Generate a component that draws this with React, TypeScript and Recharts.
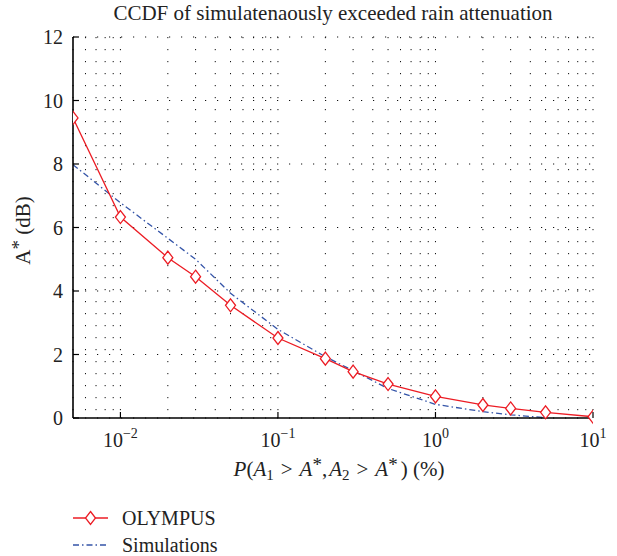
import { LineChart, Line, XAxis, YAxis, CartesianGrid } from "recharts";

const probs = [0.005, 0.01, 0.02, 0.03, 0.05, 0.1, 0.2, 0.3, 0.5, 1, 2, 3, 5, 10];
const olympus = [9.45, 6.33, 5.05, 4.45, 3.55, 2.52, 1.87, 1.46, 1.07, 0.68, 0.41, 0.3, 0.18, 0.04];
const simulations = [7.98, 6.78, 5.66, 5.0, 3.93, 2.79, 1.93, 1.49, 0.93, 0.43, 0.2, 0.1, 0.01, null];

const gridTicks = [
  0.005, 0.006, 0.007, 0.008, 0.009,
  0.01, 0.02, 0.03, 0.04, 0.05, 0.06, 0.07, 0.08, 0.09,
  0.1, 0.2, 0.3, 0.4, 0.5, 0.6, 0.7, 0.8, 0.9,
  1, 2, 3, 4, 5, 6, 7, 8, 9, 10,
];
const decadeTicks = [0.01, 0.1, 1, 10];
const yTicks = [0, 2, 4, 6, 8, 10, 12];

const data = probs.map((p, i) => ({ p, olympus: olympus[i], sim: simulations[i] }));

const FONT = "'Liberation Serif', 'DejaVu Serif', serif";
const RED = "#ec1c24";
const BLUE = "#3454a8";
const SIM_DASH = "6 3 1.5 3";

const isDecade = (v: number) => Math.abs(Math.log10(v) - Math.round(Math.log10(v))) < 1e-6;

const BottomTick = (props: any) => {
  const { x, y, payload } = props;
  if (!isDecade(payload.value)) return <g />;
  const e = Math.round(Math.log10(payload.value));
  return (
    <g>
      <line x1={x} x2={x} y1={y} y2={y - 6} stroke="#000" strokeWidth={1.2} />
      <text x={x} y={y + 29} textAnchor="middle" fontFamily={FONT} fontSize={20} fill="#222">
        10
        <tspan dy={-9} fontSize={14}>{e < 0 ? "\u2212" + -e : String(e)}</tspan>
      </text>
    </g>
  );
};

const TopTick = (props: any) => {
  const { x, y } = props;
  return <line x1={x} x2={x} y1={y} y2={y + 6} stroke="#000" strokeWidth={1.2} />;
};

const LeftTick = (props: any) => {
  const { x, y, payload } = props;
  return (
    <g>
      <line x1={x} x2={x + 6} y1={y} y2={y} stroke="#000" strokeWidth={1.2} />
      <text x={x - 10} y={y} dy="0.35em" textAnchor="end" fontFamily={FONT} fontSize={20} fill="#222">
        {payload.value}
      </text>
    </g>
  );
};

const RightTick = (props: any) => {
  const { x, y } = props;
  return <line x1={x} x2={x - 6} y1={y} y2={y} stroke="#000" strokeWidth={1.2} />;
};

const Diamond = (props: any) => {
  const { cx, cy } = props;
  if (cx == null || cy == null) return <g />;
  return (
    <polygon
      points={`${cx},${cy - 6.5} ${cx + 5},${cy} ${cx},${cy + 6.5} ${cx - 5},${cy}`}
      fill="#fff"
      stroke={RED}
      strokeWidth={1.3}
    />
  );
};

const XLabel = (props: any) => {
  const { viewBox } = props;
  const cx = viewBox.x + viewBox.width / 2 + 6;
  const y = viewBox.y + 58;
  return (
    <text x={cx} y={y} textAnchor="middle" fontFamily={FONT} fontSize={21} fill="#222">
      <tspan fontStyle="italic">P</tspan>(<tspan fontStyle="italic">A</tspan>
      <tspan dy={4} fontSize={15}>1</tspan>
      <tspan dy={-4} dx={7}>&gt;</tspan>
      <tspan fontStyle="italic" dx={7}>A</tspan>
      <tspan dy={-5} fontSize={19}>*</tspan>
      <tspan dy={5}>,</tspan>
      <tspan fontStyle="italic" dx={2}>A</tspan>
      <tspan dy={4} fontSize={15}>2</tspan>
      <tspan dy={-4} dx={7}>&gt;</tspan>
      <tspan fontStyle="italic" dx={7}>A</tspan>
      <tspan dy={-5} fontSize={19}>*</tspan>
      <tspan dy={5} dx={3}>) (%)</tspan>
    </text>
  );
};

const YLabel = (props: any) => {
  const { viewBox } = props;
  const cy = viewBox.y + viewBox.height / 2 + 3;
  const x = 30;
  return (
    <text x={x} y={cy} transform={`rotate(-90 ${x} ${cy})`} textAnchor="middle" fontFamily={FONT} fontSize={21} fill="#222">
      A
      <tspan dy={-5} fontSize={19}>*</tspan>
      <tspan dy={5}> (dB)</tspan>
    </text>
  );
};

export default function App() {
  return (
    <div style={{ position: "absolute", left: 0, top: 0, width: 617, height: 556, background: "#fff" }}>
      <LineChart width={617} height={556} data={data} margin={{ top: 37, right: 24, bottom: 108, left: 13 }}>
        <CartesianGrid
          xAxisId="b"
          yAxisId="l"
          stroke="#111"
          strokeWidth={1}
          strokeDasharray="1.2 10.8"
        />
        <XAxis
          xAxisId="b"
          dataKey="p"
          type="number"
          scale="log"
          domain={[0.005, 10]}
          allowDataOverflow
          ticks={gridTicks}
          interval={0}
          height={30}
          tickSize={0}
          tickMargin={0}
          tick={<BottomTick />}
          axisLine={{ stroke: "#000", strokeWidth: 1.6 }}
          label={<XLabel />}
        />
        <XAxis
          xAxisId="t"
          orientation="top"
          dataKey="p"
          type="number"
          scale="log"
          domain={[0.005, 10]}
          allowDataOverflow
          ticks={decadeTicks}
          interval={0}
          height={0}
          tickSize={0}
          tickMargin={0}
          tick={<TopTick />}
          axisLine={{ stroke: "#000", strokeWidth: 1.6 }}
        />
        <YAxis
          yAxisId="l"
          type="number"
          domain={[0, 12]}
          ticks={yTicks}
          interval={0}
          width={60}
          tickSize={0}
          tickMargin={0}
          tick={<LeftTick />}
          axisLine={{ stroke: "#000", strokeWidth: 1.6 }}
          label={<YLabel />}
        />
        <YAxis
          yAxisId="r"
          orientation="right"
          type="number"
          domain={[0, 12]}
          ticks={yTicks}
          interval={0}
          width={0}
          tickSize={0}
          tickMargin={0}
          tick={<RightTick />}
          axisLine={{ stroke: "#000", strokeWidth: 1.6 }}
        />
        <Line
          xAxisId="b"
          yAxisId="l"
          type="linear"
          dataKey="sim"
          name="Simulations"
          stroke={BLUE}
          strokeWidth={1.3}
          strokeDasharray={SIM_DASH}
          dot={false}
          activeDot={false}
          isAnimationActive={false}
        />
        <Line
          xAxisId="b"
          yAxisId="l"
          type="linear"
          dataKey="olympus"
          name="OLYMPUS"
          stroke={RED}
          strokeWidth={1.3}
          dot={<Diamond />}
          activeDot={false}
          isAnimationActive={false}
        />
      </LineChart>
      <svg width={617} height={556} style={{ position: "absolute", left: 0, top: 0, pointerEvents: "none" }}>
        <text x={333} y={20} textAnchor="middle" fontFamily={FONT} fontSize={21} fill="#222">
          CCDF of simulatenaously exceeded rain attenuation
        </text>
        <line x1={73} x2={108} y1={518} y2={518} stroke={RED} strokeWidth={1.3} />
        <Diamond cx={90.5} cy={518} />
        <text x={122} y={524.5} fontFamily={FONT} fontSize={20} fill="#222">OLYMPUS</text>
        <line x1={73} x2={108} y1={545} y2={545} stroke={BLUE} strokeWidth={1.3} strokeDasharray={SIM_DASH} />
        <text x={122} y={551.5} fontFamily={FONT} fontSize={20} fill="#222">Simulations</text>
      </svg>
    </div>
  );
}
